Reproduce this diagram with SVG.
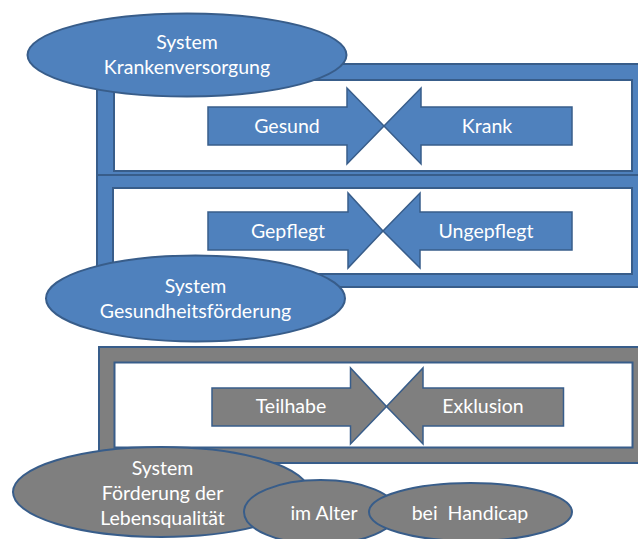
<svg xmlns="http://www.w3.org/2000/svg" width="638" height="539" viewBox="0 0 638 539">
<style>
.b{fill:#4F81BD;stroke:#385D8A;stroke-width:2}
.g{fill:#7F7F7F;stroke:#385D8A;stroke-width:2}
.a{stroke-width:1.5;stroke-linejoin:miter}
.t{font-family:Lato,"Liberation Sans",sans-serif;font-size:19.5px;fill:#FFFFFF;text-anchor:middle}
</style>
<rect width="638" height="539" fill="#FFFFFF"/>
<g id="frame-kranken">
<path class="b" fill-rule="evenodd" d="M97,64H660V177H97Z M114,80V171H632V80Z"/>
</g>
<g id="frame-gesundheit">
<path class="b" fill-rule="evenodd" d="M97,175H660V287H97Z M113,188V274H632V188Z"/>
</g>
<g id="frame-lebensqualitaet">
<path class="g" fill-rule="evenodd" d="M99,347H660V463H99Z M114.5,362.5V447.5H632.5V362.5Z"/>
</g>
<g id="arrow-gesund">
<polygon class="b a" points="208,107 347,107 347,88 384,126 347,164 347,145 208,145"/>
<text class="t" x="287" y="133">Gesund</text>
</g>
<g id="arrow-krank">
<polygon class="b a" points="572,107 421,107 421,88 384,126 421,164 421,145 572,145"/>
<text class="t" x="487" y="133">Krank</text>
</g>
<g id="arrow-gepflegt">
<polygon class="b a" points="208,212 348,212 348,193 383,231 348,268 348,250 208,250"/>
<text class="t" x="288" y="238">Gepflegt</text>
</g>
<g id="arrow-ungepflegt">
<polygon class="b a" points="572,212 420,212 420,193 383,231 420,268 420,250 572,250"/>
<text class="t" x="486" y="238">Ungepflegt</text>
</g>
<g id="arrow-teilhabe">
<polygon class="g a" points="212,388 350.5,388 350.5,368 386.5,406.5 350.5,444 350.5,426 212,426"/>
<text class="t" x="291" y="413">Teilhabe</text>
</g>
<g id="arrow-exklusion">
<polygon class="g a" points="563.5,388 423,388 423,368 386.5,406.5 423,444 423,426 563.5,426"/>
<text class="t" x="483" y="413">Exklusion</text>
</g>
<g id="system-krankenversorgung">
<ellipse class="b" cx="187" cy="55" rx="159.5" ry="41.5"/>
<text class="t" x="187" y="49">System</text>
<text class="t" x="187" y="74">Krankenversorgung</text>
</g>
<g id="system-gesundheitsfoerderung">
<ellipse class="b" cx="195.5" cy="298.5" rx="149.5" ry="43"/>
<text class="t" x="195.5" y="293">System</text>
<text class="t" x="195.5" y="318">Gesundheitsförderung</text>
</g>
<g id="system-lebensqualitaet">
<ellipse class="g" cx="161" cy="492" rx="148" ry="45"/>
<text class="t" x="162.5" y="474.5">System</text>
<text class="t" x="162.5" y="500">Förderung der</text>
<text class="t" x="162.5" y="525">Lebensqualität</text>
</g>
<g id="im-alter">
<ellipse class="g" cx="320.5" cy="512" rx="76.5" ry="32"/>
<text class="t" x="324" y="520">im Alter</text>
</g>
<g id="bei-handicap">
<ellipse class="g" cx="470.5" cy="512" rx="101.5" ry="29"/>
<text class="t" x="470" y="520" xml:space="preserve">bei  Handicap</text>
</g>
<g id="connectors"/>
</svg>
